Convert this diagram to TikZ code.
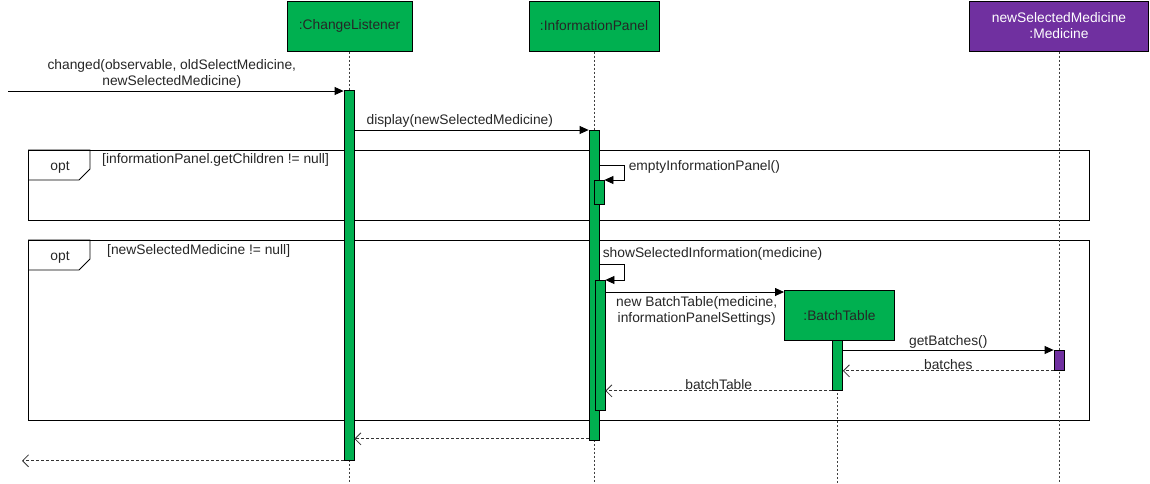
\documentclass[tikz,border=0pt]{standalone}
\usepackage{fontspec}
\setmainfont{Liberation Sans}
\usetikzlibrary{arrows.meta, positioning, calc}
\definecolor{seqgreen}{RGB}{0,176,80}
\definecolor{seqpurple}{RGB}{112,48,160}

\begin{document}
\begin{tikzpicture}[x=1pt, y=-1pt,
    font=\fontsize{13.8}{16}\selectfont,
    object/.style={draw, line width=1pt, fill=seqgreen, minimum height=50pt, inner sep=2pt, align=center, anchor=north, text=black!85},
    bar/.style={draw, line width=0.8pt, fill=seqgreen, minimum width=10pt, inner sep=0pt, anchor=north},
    lifeline/.style={line width=0.8pt, black!75, dash pattern=on 2pt off 2pt},
    call/.style={line width=0.8pt, -{Triangle[length=9pt,width=8pt]}},
    reply/.style={line width=0.8pt, black!80, dash pattern=on 3pt off 2pt, -{Straight Barb[length=6pt,width=12pt]}},
    optframe/.style={draw, line width=0.8pt, anchor=north west, inner sep=0pt},
    msg/.style={text=black!85, inner sep=2pt}
]
    \useasboundingbox (0,0) rectangle (1150,483);
    \coordinate (bottom) at (0,483);

    % option frames
    \node[optframe, minimum width=1061pt, minimum height=70pt] (opt1) at (28,150) {};
    \draw[line width=0.8pt] (opt1.north west) -- ++(62,0) -- ++(0,19) -- ++(-11,11) -- ++(-51,0);
    \node[msg] (opt1tag) at ($(opt1.north west)+(32,17)$) {opt};
    \node[msg, anchor=west] (opt1guard) at ($(opt1.north west)+(72,10)$) {[informationPanel.getChildren != null]};

    \node[optframe, minimum width=1061pt, minimum height=180pt] (opt2) at (28,240) {};
    \draw[line width=0.8pt] (opt2.north west) -- ++(62,0) -- ++(0,19) -- ++(-11,11) -- ++(-51,0);
    \node[msg] (opt2tag) at ($(opt2.north west)+(32,17)$) {opt};
    \node[msg, anchor=west] (opt2guard) at ($(opt2.north west)+(77,11)$) {[newSelectedMedicine != null]};

    % objects
    \node[object, minimum width=125pt] (cl) at (349.5,0.5) {:ChangeListener};
    \node[object, minimum width=130pt] (ip) at (594,0.5) {:InformationPanel};
    \node[object, minimum width=179pt, fill=seqpurple, text=white] (med) at (1059,0.5) {newSelectedMedicine\\:Medicine};

    % lifelines
    \draw[lifeline] (cl.south) -- (cl.south |- bottom);
    \draw[lifeline] (ip.south) -- (ip.south |- bottom);
    \draw[lifeline] (med.south) -- (med.south |- bottom);

    % activations
    \node[bar, minimum height=370pt] (clAct) at (349,90) {};
    \node[bar, minimum height=310pt] (ipAct) at (594,130) {};
    \node[bar, minimum height=24pt] (ipSelf) at (599,180) {};
    \node[bar, minimum height=130pt] (ipShow) at (600,280) {};
    \node[bar, minimum height=20pt, fill=seqpurple] (medAct) at (1059,350) {};

    % created object
    \node[object, minimum width=110pt, anchor=north west] (bt) at (784,290) {:BatchTable};
    \draw[lifeline] (bt.south -| 837.5,0) -- (bottom -| 837.5,0);
    \node[bar, minimum height=50pt] (btAct) at (837.5,340) {};

    % messages
    \coordinate (caller) at (8,91);
    \draw[call] (caller) -- (caller -| clAct.west)
        node[msg, midway, above, align=center, xshift=-4pt] {changed(observable, oldSelectMedicine,\\newSelectedMedicine)};
    \draw[call] (clAct.east |- ipAct.north) -- (ipAct.north west)
        node[msg, pos=0.45, above] {display(newSelectedMedicine)};
    \draw[call] ($(ipAct.east |- ipSelf.north)+(0,-15)$) -- ++(25,0)
        node[msg, right, inner sep=4pt, yshift=-2pt] {emptyInformationPanel()} |- (ipSelf.north east);
    \draw[call] ($(ipAct.east |- ipShow.north)+(0,-16)$)
        node[msg, above right, inner sep=3pt] {showSelectedInformation(medicine)} -- ++(25,0) |- (ipShow.north east);
    \draw[call] ($(ipShow.east |- bt.north west)+(0,2)$) -- ($(bt.north west)+(0,2)$)
        node[msg, midway, below, align=center, yshift=-2pt, xshift=2pt] {new BatchTable(medicine,\\informationPanelSettings)};
    \draw[call] (btAct.east |- medAct.north) -- (medAct.north west)
        node[msg, midway, above, inner sep=1pt] {getBatches()};
    \draw[reply] (medAct.south west) -- (btAct.east |- medAct.south)
        node[msg, midway, above, inner sep=1pt] {batches};
    \draw[reply] (btAct.south west) -- (ipShow.east |- btAct.south)
        node[msg, midway, above, inner sep=1pt] {batchTable};
    \draw[reply] ($(ipAct.south west)+(0,-2)$) -- ($(clAct.east |- ipAct.south)+(0,-2)$);
    \coordinate (back) at (22,460);
    \draw[reply] (clAct.south west) -- (back |- clAct.south);
\end{tikzpicture}
\end{document}
